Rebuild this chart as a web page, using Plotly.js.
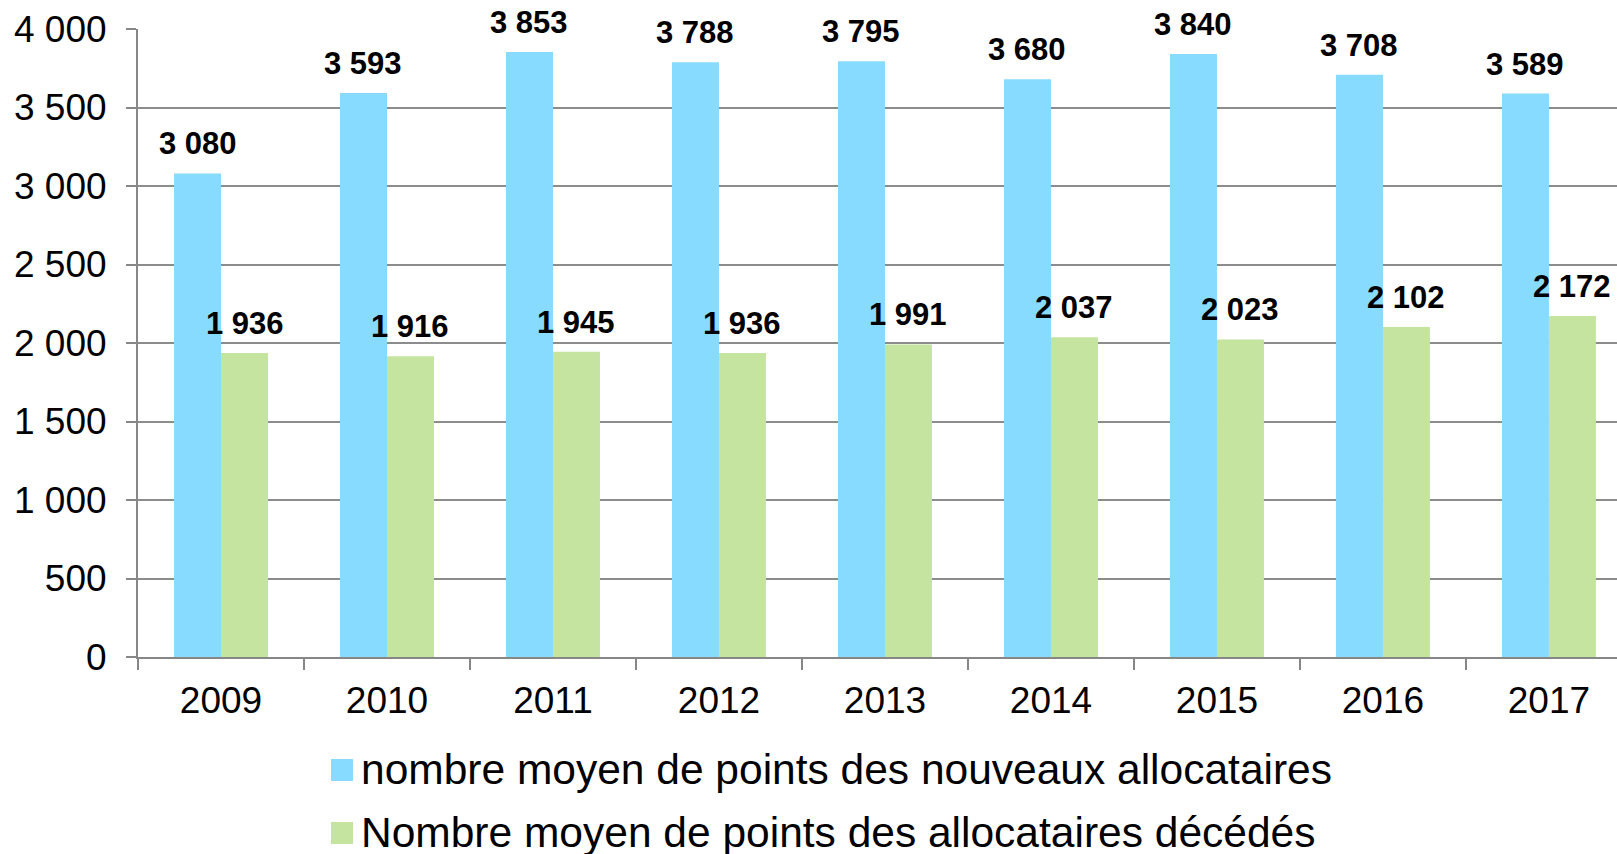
<!DOCTYPE html>
<html>
<head>
<meta charset="utf-8">
<script src="https://cdn.plot.ly/plotly-3.0.1.min.js"></script>
<style>
html, body { margin: 0; padding: 0; background: #ffffff; }
#chart { width: 1617px; height: 854px; }
</style>
</head>
<body>
<div id="chart"></div>
<script>
const categories = ['2009', '2010', '2011', '2012', '2013', '2014', '2015', '2016', '2017'];
const nouveauxAllocataires = [3080, 3593, 3853, 3788, 3795, 3680, 3840, 3708, 3589];
const allocatairesDecedes = [1936, 1916, 1945, 1936, 1991, 2037, 2023, 2102, 2172];
const seriesNames = [
  'nombre moyen de points des nouveaux allocataires',
  'Nombre moyen de points des allocataires décédés'
];
const yTickValues = [0, 500, 1000, 1500, 2000, 2500, 3000, 3500, 4000];

const W = 1617, H = 854;
const M = { l: 138, r: 0, t: 29, b: 197 };
const plotW = W - M.l - M.r, plotH = H - M.t - M.b;
const px2x = p => (p - M.l) / plotW;
const py2y = p => (H - M.b - p) / plotH;

function fmt(v) {
  return String(v).replace(/\B(?=(\d{3})+(?!\d))/g, ' ');
}

const colors = ['#87DBFF', '#C4E4A0'];
const font = 'Liberation Sans, Arial, sans-serif';

const traces = [
  { type: 'bar', x: categories, y: nouveauxAllocataires, name: seriesNames[0],
    marker: { color: colors[0] }, hoverinfo: 'skip' },
  { type: 'bar', x: categories, y: allocatairesDecedes, name: seriesNames[1],
    marker: { color: colors[1] }, hoverinfo: 'skip' }
];

const annotations = [];
[nouveauxAllocataires, allocatairesDecedes].forEach((series, s) => {
  series.forEach((v, i) => {
    annotations.push({
      x: i, y: v, xref: 'x', yref: 'y',
      text: '<b>' + fmt(v) + '</b>', showarrow: false,
      xanchor: 'center', yanchor: 'bottom',
      xshift: s === 0 ? -23.5 : 23.5, yshift: 10,
      font: { family: font, size: 31, color: '#000000' }
    });
  });
});

const shapes = [];
seriesNames.forEach((nm, k) => {
  const cy = 770 + k * 63;
  shapes.push({
    type: 'rect', xref: 'paper', yref: 'paper',
    x0: px2x(331), x1: px2x(353), y0: py2y(cy + 11), y1: py2y(cy - 11),
    fillcolor: colors[k], line: { width: 0 }
  });
  annotations.push({
    xref: 'paper', yref: 'paper', x: px2x(359), y: py2y(cy - 1),
    xanchor: 'left', yanchor: 'middle', showarrow: false,
    text: nm, font: { family: font, size: 42.5, color: '#000000' }
  });
});

const layout = {
  width: W, height: H,
  margin: M,
  paper_bgcolor: '#ffffff', plot_bgcolor: '#ffffff',
  barmode: 'group', bargap: 0.434, bargroupgap: 0,
  showlegend: false,
  font: { family: font, color: '#000000' },
  xaxis: {
    type: 'category', range: [-0.5, 8.41],
    showline: true, linecolor: '#878787', linewidth: 2,
    ticks: 'outside', tickson: 'boundaries', ticklen: 11, tickwidth: 2, tickcolor: '#878787',
    tickfont: { family: font, size: 37, color: '#000000' },
    ticklabelstandoff: 10,
    showgrid: false, zeroline: false, fixedrange: true
  },
  yaxis: {
    range: [0, 4000], tickvals: yTickValues, ticktext: yTickValues.map(fmt),
    showline: true, linecolor: '#878787', linewidth: 2,
    ticks: 'outside', ticklen: 10, tickwidth: 2, tickcolor: '#878787',
    showgrid: true, gridcolor: '#8c8c8c', gridwidth: 2,
    zeroline: false,
    tickfont: { family: font, size: 37, color: '#000000' },
    ticklabelstandoff: 12, fixedrange: true
  },
  annotations: annotations,
  shapes: shapes
};

Plotly.newPlot('chart', traces, layout, { staticPlot: true, displayModeBar: false });
</script>
</body>
</html>
